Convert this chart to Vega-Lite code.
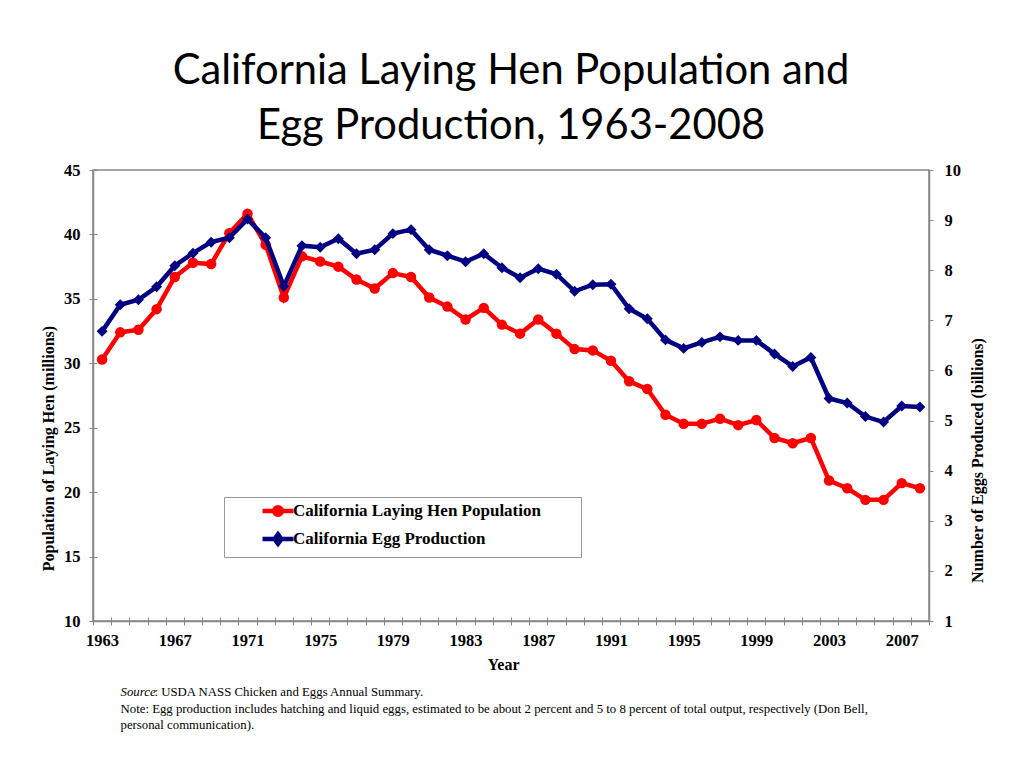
{
  "$schema": "https://vega.github.io/schema/vega-lite/v6.json",
  "width": 836,
  "height": 451,
  "autosize": {"type": "none"},
  "padding": {"left": 93, "top": 170, "right": 95, "bottom": 147},
  "background": "white",
  "title": {
    "text": ["California Laying Hen Population and", "Egg Production, 1963-2008"],
    "font": "Lato",
    "fontSize": 41.7,
    "fontWeight": "normal",
    "color": "black",
    "lineHeight": 55,
    "anchor": "middle",
    "frame": "group",
    "offset": 14
  },
  "config": {
    "view": {"stroke": "#868686", "strokeWidth": 1.5},
    "axis": {
      "grid": false,
      "labelFont": "Liberation Serif",
      "labelFontWeight": "bold",
      "labelFontSize": 16.5,
      "labelColor": "black",
      "titleFont": "Liberation Serif",
      "titleFontWeight": "bold",
      "titleFontSize": 16,
      "titleColor": "black",
      "domainColor": "#868686",
      "domainWidth": 1.5,
      "tickColor": "#868686",
      "tickWidth": 1
    }
  },
  "data": {
    "values": [
      {"year": 1963, "hens": 30.3, "eggs": 6.78},
      {"year": 1964, "hens": 32.4, "eggs": 7.31},
      {"year": 1965, "hens": 32.6, "eggs": 7.41},
      {"year": 1966, "hens": 34.2, "eggs": 7.67},
      {"year": 1967, "hens": 36.7, "eggs": 8.09},
      {"year": 1968, "hens": 37.8, "eggs": 8.34},
      {"year": 1969, "hens": 37.7, "eggs": 8.56},
      {"year": 1970, "hens": 40.1, "eggs": 8.65},
      {"year": 1971, "hens": 41.6, "eggs": 9.02},
      {"year": 1972, "hens": 39.2, "eggs": 8.65},
      {"year": 1973, "hens": 35.1, "eggs": 7.68},
      {"year": 1974, "hens": 38.3, "eggs": 8.49},
      {"year": 1975, "hens": 37.9, "eggs": 8.46},
      {"year": 1976, "hens": 37.5, "eggs": 8.63},
      {"year": 1977, "hens": 36.5, "eggs": 8.33},
      {"year": 1978, "hens": 35.8, "eggs": 8.41},
      {"year": 1979, "hens": 37.0, "eggs": 8.73},
      {"year": 1980, "hens": 36.7, "eggs": 8.81},
      {"year": 1981, "hens": 35.1, "eggs": 8.41},
      {"year": 1982, "hens": 34.4, "eggs": 8.29},
      {"year": 1983, "hens": 33.4, "eggs": 8.17},
      {"year": 1984, "hens": 34.3, "eggs": 8.33},
      {"year": 1985, "hens": 33.0, "eggs": 8.05},
      {"year": 1986, "hens": 32.3, "eggs": 7.85},
      {"year": 1987, "hens": 33.4, "eggs": 8.03},
      {"year": 1988, "hens": 32.3, "eggs": 7.92},
      {"year": 1989, "hens": 31.1, "eggs": 7.58},
      {"year": 1990, "hens": 31.0, "eggs": 7.71},
      {"year": 1991, "hens": 30.2, "eggs": 7.72},
      {"year": 1992, "hens": 28.6, "eggs": 7.23},
      {"year": 1993, "hens": 28.0, "eggs": 7.03},
      {"year": 1994, "hens": 26.0, "eggs": 6.61},
      {"year": 1995, "hens": 25.3, "eggs": 6.44},
      {"year": 1996, "hens": 25.3, "eggs": 6.56},
      {"year": 1997, "hens": 25.7, "eggs": 6.67},
      {"year": 1998, "hens": 25.2, "eggs": 6.60},
      {"year": 1999, "hens": 25.6, "eggs": 6.60},
      {"year": 2000, "hens": 24.2, "eggs": 6.33},
      {"year": 2001, "hens": 23.8, "eggs": 6.08},
      {"year": 2002, "hens": 24.2, "eggs": 6.26},
      {"year": 2003, "hens": 20.9, "eggs": 5.44},
      {"year": 2004, "hens": 20.3, "eggs": 5.35},
      {"year": 2005, "hens": 19.4, "eggs": 5.08},
      {"year": 2006, "hens": 19.4, "eggs": 4.97},
      {"year": 2007, "hens": 20.7, "eggs": 5.29},
      {"year": 2008, "hens": 20.3, "eggs": 5.27}
    ]
  },
  "layer": [
    {
      "mark": {"type": "line", "strokeWidth": 4.5, "point": {"filled": true, "size": 110}},
      "encoding": {
        "x": {
          "field": "year", "type": "quantitative",
          "scale": {"domain": [1962.5, 2008.5], "nice": false, "zero": false},
          "axis": {
            "orient": "bottom",
            "values": [1963, 1967, 1971, 1975, 1979, 1983, 1987, 1991, 1995, 1999, 2003, 2007],
            "format": "d",
            "ticks": false,
            "tickSize": 0,
            "labelPadding": 11,
            "labelFlush": false,
            "title": "Year",
            "titleX": 410,
            "titleY": 43,
            "titleAlign": "center",
            "titleBaseline": "middle"
          }
        },
        "y": {
          "field": "hens", "type": "quantitative",
          "scale": {"domain": [10, 45], "nice": false, "zero": false},
          "axis": {
            "orient": "left",
            "values": [10, 15, 20, 25, 30, 35, 40, 45],
            "tickSize": 4,
            "labelPadding": 9,
            "title": "Population of Laying Hen (millions)",
            "titleAngle": -90,
            "titleX": -45,
            "titleY": 278,
            "titleAlign": "center",
            "titleBaseline": "middle"
          }
        },
        "color": {
          "datum": "California Laying Hen Population",
          "scale": {
            "domain": ["California Laying Hen Population", "California Egg Production"],
            "range": ["#ff0000", "#000080"]
          },
          "legend": {
            "orient": "none",
            "legendX": 131,
            "legendY": 327,
            "title": null,
            "direction": "vertical",
            "fillColor": "white",
            "strokeColor": "#999999",
            "padding": 4,
            "symbolOffset": 40,
            "symbolSize": 240,
            "symbolStrokeWidth": 4.5,
            "labelFont": "Liberation Serif",
            "labelFontWeight": "bold",
            "labelFontSize": 17,
            "labelColor": "black",
            "labelOffset": 5,
            "labelLimit": 500,
            "rowPadding": 1,
            "labelExpr": "datum.value == 'California Laying Hen Population' ? datum.label + '\u2800\u2800\u2800' : datum.label",
            "encode": {
              "symbols": {
                "update": {
                  "shape": {"signal": "datum.value == 'California Egg Production' ? 'M-2,0L2,0M0,-0.6L0.45,0L0,0.6L-0.45,0Z' : 'M-2,0L2,0M0.5,0A0.5,0.5,0,1,1,-0.5,0A0.5,0.5,0,1,1,0.5,0Z'"},
                  "stroke": {"signal": "datum.value == 'California Egg Production' ? '#000080' : '#ff0000'"},
                  "fill": {"signal": "datum.value == 'California Egg Production' ? '#000080' : '#ff0000'"},
                  "strokeWidth": {"value": 4.5},
                  "opacity": {"value": 1}
                }
              }
            }
          }
        }
      }
    },
    {
      "mark": {"type": "line", "strokeWidth": 4.5, "point": {"filled": true, "size": 120, "shape": "diamond"}},
      "encoding": {
        "x": {
          "field": "year", "type": "quantitative",
          "scale": {"domain": [1962.5, 2008.5], "nice": false, "zero": false},
          "axis": {
            "orient": "bottom",
            "values": [1962.5, 1963.5, 1964.5, 1965.5, 1966.5, 1967.5, 1968.5, 1969.5, 1970.5, 1971.5, 1972.5, 1973.5, 1974.5, 1975.5, 1976.5, 1977.5, 1978.5, 1979.5, 1980.5, 1981.5, 1982.5, 1983.5, 1984.5, 1985.5, 1986.5, 1987.5, 1988.5, 1989.5, 1990.5, 1991.5, 1992.5, 1993.5, 1994.5, 1995.5, 1996.5, 1997.5, 1998.5, 1999.5, 2000.5, 2001.5, 2002.5, 2003.5, 2004.5, 2005.5, 2006.5, 2007.5, 2008.5],
            "labels": false,
            "domain": false,
            "tickSize": 4,
            "title": ["Note: Egg production includes hatching and liquid eggs, estimated to be about 2 percent and 5 to 8 percent of total output, respectively (Don Bell,", "personal communication)."],
            "titleFont": "Liberation Serif",
            "titleFontWeight": "normal",
            "titleFontSize": 12.8,
            "titleLineHeight": 16.5,
            "titleX": 27,
            "titleY": 91,
            "titleAlign": "left",
            "titleBaseline": "alphabetic"
          }
        },
        "y": {
          "field": "eggs", "type": "quantitative",
          "scale": {"domain": [1, 10], "nice": false, "zero": false},
          "axis": {
            "orient": "right",
            "values": [1, 2, 3, 4, 5, 6, 7, 8, 9, 10],
            "tickSize": 4,
            "labelPadding": 11,
            "title": "Number of Eggs Produced (billions)",
            "titleAngle": -90,
            "titleX": 48,
            "titleY": 290,
            "titleAlign": "center",
            "titleBaseline": "middle"
          }
        },
        "color": {"datum": "California Egg Production"}
      }
    },
    {
      "mark": {"type": "point", "opacity": 0},
      "encoding": {
        "x": {
          "field": "year", "type": "quantitative",
          "scale": {"domain": [1962.5, 2008.5], "nice": false, "zero": false},
          "axis": {
            "orient": "bottom",
            "values": [1962.5, 1963.5, 1964.5, 1965.5, 1966.5, 1967.5, 1968.5, 1969.5, 1970.5, 1971.5, 1972.5, 1973.5, 1974.5, 1975.5, 1976.5, 1977.5, 1978.5, 1979.5, 1980.5, 1981.5, 1982.5, 1983.5, 1984.5, 1985.5, 1986.5, 1987.5, 1988.5, 1989.5, 1990.5, 1991.5, 1992.5, 1993.5, 1994.5, 1995.5, 1996.5, 1997.5, 1998.5, 1999.5, 2000.5, 2001.5, 2002.5, 2003.5, 2004.5, 2005.5, 2006.5, 2007.5, 2008.5],
            "labels": false,
            "domain": false,
            "tickSize": -4,
            "title": "Source",
            "titleFont": "Liberation Serif",
            "titleFontWeight": "normal",
            "titleFontStyle": "italic",
            "titleFontSize": 12.8,
            "titleX": 27,
            "titleY": 74,
            "titleAlign": "left",
            "titleBaseline": "alphabetic"
          }
        },
        "y": {
          "field": "hens", "type": "quantitative",
          "scale": {"domain": [10, 45], "nice": false, "zero": false},
          "axis": {
            "orient": "left",
            "values": [10, 15, 20, 25, 30, 35, 40, 45],
            "labels": false,
            "domain": false,
            "tickSize": -4,
            "title": ": USDA NASS Chicken and Eggs Annual Summary.",
            "titleFont": "Liberation Serif",
            "titleFontWeight": "normal",
            "titleFontSize": 12.8,
            "titleAngle": 0,
            "titleX": 61,
            "titleY": 525,
            "titleAlign": "left",
            "titleBaseline": "alphabetic"
          }
        }
      }
    }
  ],
  "resolve": {
    "scale": {"y": "independent"},
    "axis": {"x": "independent", "y": "independent"}
  }
}
